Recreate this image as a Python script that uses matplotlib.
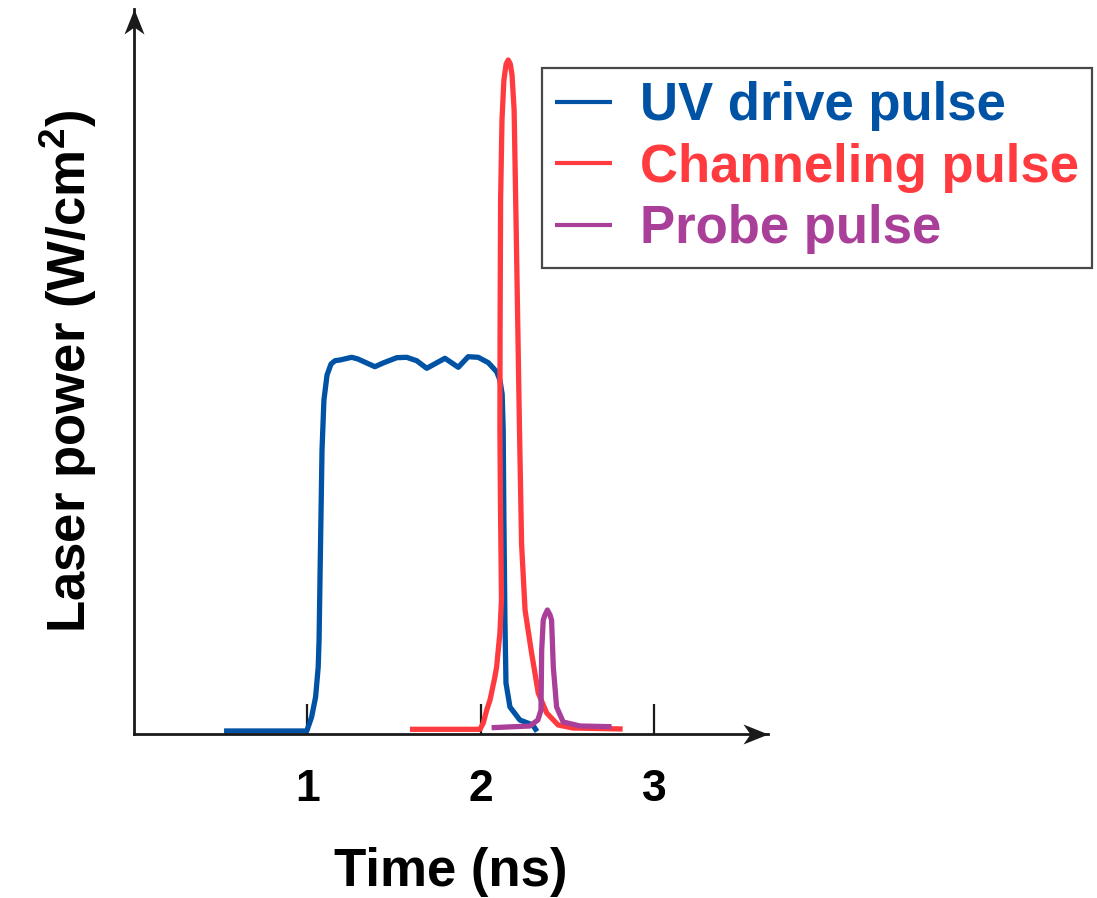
import matplotlib
matplotlib.use("Agg")
import matplotlib.pyplot as plt
from matplotlib.path import Path

plt.rcParams["font.family"] = ["Liberation Sans", "DejaVu Sans"]
plt.rcParams["font.weight"] = "bold"
plt.rcParams["mathtext.fontset"] = "custom"
plt.rcParams["mathtext.rm"] = "Liberation Sans:bold"
plt.rcParams["mathtext.bf"] = "Liberation Sans:bold"

# Pulse shapes: time (ns) and power (arb. units)
uv_t = [0.520, 0.997, 1.025, 1.048, 1.063, 1.068, 1.075, 1.085, 1.096, 1.114,
        1.137, 1.160, 1.189, 1.256, 1.292, 1.390, 1.437, 1.516, 1.573, 1.631,
        1.689, 1.794, 1.871, 1.928, 1.986, 2.044, 2.092, 2.111, 2.124, 2.130,
        2.134, 2.140, 2.146, 2.169, 2.226, 2.301, 2.325]
uv_p = [0.03, 0.03, 0.17, 0.37, 0.67, 0.94, 1.74, 2.84, 3.34, 3.59,
        3.70, 3.733, 3.74, 3.767, 3.75, 3.673, 3.71, 3.763, 3.767, 3.733,
        3.657, 3.757, 3.667, 3.773, 3.767, 3.713, 3.623, 3.54, 3.40, 3.04,
        2.14, 1.14, 0.51, 0.27, 0.14, 0.09, 0.025]

ch_t = [1.592, 1.996, 2.015, 2.035, 2.054, 2.082, 2.092, 2.111, 2.120, 2.114,
        2.111, 2.112, 2.115, 2.123, 2.134, 2.147, 2.159, 2.171, 2.181, 2.193,
        2.205, 2.224, 2.236, 2.256, 2.291, 2.332, 2.381, 2.447, 2.532, 2.819]
ch_p = [0.047, 0.047, 0.11, 0.24, 0.34, 0.57, 0.67, 1.01, 1.34, 2.34,
        3.04, 4.04, 5.34, 6.14, 6.54, 6.70, 6.74, 6.70, 6.59, 6.24,
        5.04, 3.04, 1.90, 1.24, 0.84, 0.41, 0.21, 0.09, 0.06, 0.05]

pr_t = [2.063, 2.284, 2.330, 2.348, 2.352, 2.361, 2.371, 2.385, 2.400, 2.409,
        2.419, 2.438, 2.476, 2.573, 2.755]
pr_p = [0.063, 0.08, 0.14, 0.24, 0.84, 1.14, 1.19, 1.24, 1.19, 1.14,
        0.67, 0.27, 0.12, 0.08, 0.073]

tick_vals = [1, 2, 3]
tick_labels = ["1", "2", "3"]
labels = ["UV drive pulse", "Channeling pulse", "Probe pulse"]
colors = ["#0052A4", "#FF3B3F", "#A93F99"]

W, H = 1097, 898
fig = plt.figure(figsize=(W / 100, H / 100), dpi=100)
ax = fig.add_axes([133.9 / W, (H - 734) / H, (768.3 - 133.9) / W, (734 - 9.3) / H])
ax.set_xlim(0, 3.659)
ax.set_ylim(0, 7.247)

lw = 3.8
for t, p, c, lab in zip([uv_t, ch_t, pr_t], [uv_p, ch_p, pr_p], colors, labels):
    ax.plot(t, p, color=c, lw=lw, label=lab, solid_joinstyle="round",
            solid_capstyle="butt", clip_on=False)

# axes drawn as arrows
for side in ["top", "right"]:
    ax.spines[side].set_visible(False)
for side in ["left", "bottom"]:
    ax.spines[side].set_linewidth(2.0)
    ax.spines[side].set_color("#1a1a1a")

head = Path([(0, 0), (-1, 0.4), (-0.72, 0), (-1, -0.4), (0, 0)],
            [Path.MOVETO, Path.LINETO, Path.LINETO, Path.LINETO, Path.CLOSEPOLY])
ax.plot([1], [0], transform=ax.transAxes, marker=head, markersize=36,
        color="#1a1a1a", clip_on=False, zorder=5, markeredgewidth=0)
head_up = head.transformed(matplotlib.transforms.Affine2D().rotate_deg(90))
ax.plot([0], [1], transform=ax.transAxes, marker=head_up, markersize=36,
        color="#1a1a1a", clip_on=False, zorder=5, markeredgewidth=0)

ax.set_xticks(tick_vals)
ax.set_xticklabels(tick_labels, fontsize=32, fontweight="bold")
ax.tick_params(axis="x", direction="in", length=21.6, width=1.6, color="#1a1a1a",
               pad=25)
ax.set_yticks([])

ax.set_xlabel("Time (ns)", fontsize=38, fontweight="bold", labelpad=27)
ax.set_ylabel(r"Laser power (W/cm$^{\mathbf{2}}$)", fontsize=38,
              fontweight="bold", labelpad=25)

leg = ax.legend(loc="upper left", bbox_to_anchor=(542 / W, 1 - 68 / H),
                bbox_transform=fig.transFigure, borderaxespad=0,
                fontsize=38, handlelength=1.08, handletextpad=0.52,
                borderpad=0.25, labelspacing=0.22, fancybox=False,
                frameon=True, edgecolor="#1a1a1a")
leg.get_frame().set_linewidth(1.6)
for txt, c in zip(leg.get_texts(), colors):
    txt.set_color(c)
for line in leg.get_lines():
    line.set_linewidth(3.0)

fig.savefig("out.png", dpi=100)
